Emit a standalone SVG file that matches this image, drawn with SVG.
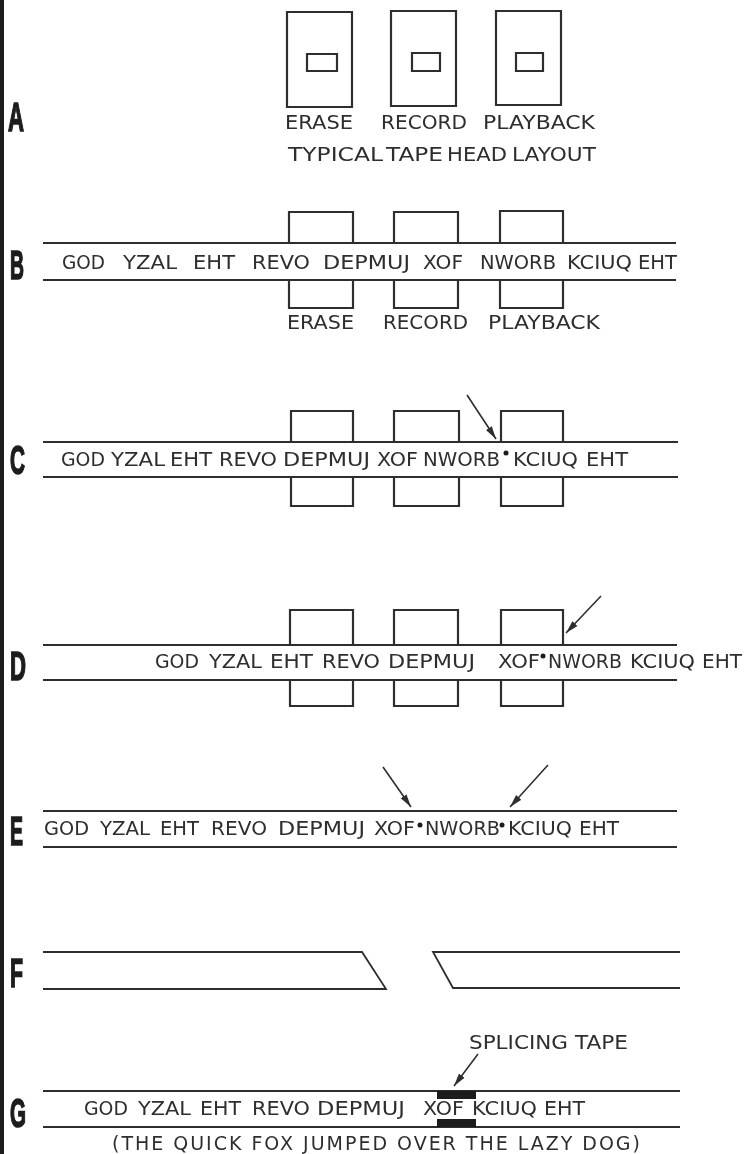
<svg xmlns="http://www.w3.org/2000/svg" width="745" height="1154" viewBox="0 0 745 1154">
<style>
.l{fill:none;stroke:#2e2e2e;stroke-width:1.8}
.h{fill:none;stroke:#2e2e2e;stroke-width:2.2}
.t{font-family:"DejaVu Sans","Liberation Sans",Arial,sans-serif;font-size:19px;fill:#2e2e2e}
.k{font-family:"Liberation Sans",Arial,sans-serif;font-weight:bold;font-size:40px;fill:#1c1c1c;stroke:#1c1c1c;stroke-width:1.6}
.a{fill:none;stroke:#2e2e2e;stroke-width:1.6;marker-end:url(#ah)}
.d{fill:#1c1c1c}
</style>
<defs>
<marker id="ah" markerUnits="userSpaceOnUse" markerWidth="15" markerHeight="10" refX="13" refY="4" orient="auto"><path d="M0 0.5L13 4L0 7.5z" fill="#2e2e2e"/></marker>
<filter id="scan" x="0" y="0" width="100%" height="100%"><feGaussianBlur stdDeviation="0.5"/></filter>
</defs>
<rect width="745" height="1154" fill="#fff"/>
<g filter="url(#scan)">
<rect id="edge" x="0" y="0" width="4" height="1154" fill="#1c1c1c"/>
<g id="A">
<text class="k" x="8" y="131" textLength="16" lengthAdjust="spacingAndGlyphs">A</text>
<path class="h" d="M287 12H352V107H287ZM307 54H337V71H307ZM391 11H456V106H391ZM412 53H440V71H412ZM496 11H561V105H496ZM516 53H543V71H516Z"/>
<text class="t" x="285" y="128.500" textLength="68" lengthAdjust="spacingAndGlyphs">ERASE</text>
<text class="t" x="381" y="128.500" textLength="86" lengthAdjust="spacingAndGlyphs">RECORD</text>
<text class="t" x="483" y="128.500" textLength="112" lengthAdjust="spacingAndGlyphs">PLAYBACK</text>
<text class="t" x="288" y="160.500" textLength="95" lengthAdjust="spacingAndGlyphs">TYPICAL</text>
<text class="t" x="386" y="160.500" textLength="57" lengthAdjust="spacingAndGlyphs">TAPE</text>
<text class="t" x="447" y="160.500" textLength="60" lengthAdjust="spacingAndGlyphs">HEAD</text>
<text class="t" x="512" y="160.500" textLength="84" lengthAdjust="spacingAndGlyphs">LAYOUT</text>
</g>
<g id="B">
<text class="k" x="10" y="279" textLength="14" lengthAdjust="spacingAndGlyphs">B</text>
<path class="l" d="M43 243H676M43 280H676"/>
<path class="h" d="M289 243V212H353V243M394 243V212H458V243M500 243V211H563V243M289 280V308H353V280M394 280V308H458V280M500 280V308H563V280"/>
<text class="t" x="62" y="268.500" textLength="43" lengthAdjust="spacingAndGlyphs">GOD</text>
<text class="t" x="123" y="268.500" textLength="54" lengthAdjust="spacingAndGlyphs">YZAL</text>
<text class="t" x="193" y="268.500" textLength="42" lengthAdjust="spacingAndGlyphs">EHT</text>
<text class="t" x="252" y="268.500" textLength="58" lengthAdjust="spacingAndGlyphs">REVO</text>
<text class="t" x="323" y="268.500" textLength="87" lengthAdjust="spacingAndGlyphs">DEPMUJ</text>
<text class="t" x="423" y="268.500" textLength="40" lengthAdjust="spacingAndGlyphs">XOF</text>
<text class="t" x="480" y="268.500" textLength="76" lengthAdjust="spacingAndGlyphs">NWORB</text>
<text class="t" x="567" y="268.500" textLength="65" lengthAdjust="spacingAndGlyphs">KCIUQ</text>
<text class="t" x="638" y="268.500" textLength="39" lengthAdjust="spacingAndGlyphs">EHT</text>
<text class="t" x="287" y="328.500" textLength="67" lengthAdjust="spacingAndGlyphs">ERASE</text>
<text class="t" x="383" y="328.500" textLength="85" lengthAdjust="spacingAndGlyphs">RECORD</text>
<text class="t" x="488" y="328.500" textLength="112" lengthAdjust="spacingAndGlyphs">PLAYBACK</text>
</g>
<g id="C">
<text class="k" x="10" y="474" textLength="15" lengthAdjust="spacingAndGlyphs">C</text>
<path class="l" d="M43 442H678M43 477H678"/>
<path class="h" d="M291 441V411H353V441M394 441V411H459V441M501 441V411H563V441M291 477V506H353V477M394 477V506H459V477M501 477V506H563V477"/>
<text class="t" x="61" y="466" textLength="44" lengthAdjust="spacingAndGlyphs">GOD</text>
<text class="t" x="111" y="466" textLength="54" lengthAdjust="spacingAndGlyphs">YZAL</text>
<text class="t" x="170" y="466" textLength="42" lengthAdjust="spacingAndGlyphs">EHT</text>
<text class="t" x="219" y="466" textLength="58" lengthAdjust="spacingAndGlyphs">REVO</text>
<text class="t" x="283" y="466" textLength="87" lengthAdjust="spacingAndGlyphs">DEPMUJ</text>
<text class="t" x="377" y="466" textLength="41" lengthAdjust="spacingAndGlyphs">XOF</text>
<text class="t" x="423" y="466" textLength="77" lengthAdjust="spacingAndGlyphs">NWORB</text>
<text class="t" x="513" y="466" textLength="65" lengthAdjust="spacingAndGlyphs">KCIUQ</text>
<text class="t" x="586" y="466" textLength="42" lengthAdjust="spacingAndGlyphs">EHT</text>
<circle class="d" cx="506" cy="453" r="2.5"/>
</g>
<g id="D">
<text class="k" x="10" y="680" textLength="16" lengthAdjust="spacingAndGlyphs">D</text>
<path class="l" d="M43 645H677M43 680H677"/>
<path class="h" d="M290 645V610H353V645M394 645V610H458V645M501 645V610H563V645M290 680V706H353V680M394 680V706H458V680M501 680V706H563V680"/>
<text class="t" x="155" y="668" textLength="44" lengthAdjust="spacingAndGlyphs">GOD</text>
<text class="t" x="209" y="668" textLength="53" lengthAdjust="spacingAndGlyphs">YZAL</text>
<text class="t" x="270" y="668" textLength="43" lengthAdjust="spacingAndGlyphs">EHT</text>
<text class="t" x="322" y="668" textLength="58" lengthAdjust="spacingAndGlyphs">REVO</text>
<text class="t" x="388" y="668" textLength="87" lengthAdjust="spacingAndGlyphs">DEPMUJ</text>
<text class="t" x="498" y="668" textLength="42" lengthAdjust="spacingAndGlyphs">XOF</text>
<text class="t" x="548" y="668" textLength="74" lengthAdjust="spacingAndGlyphs">NWORB</text>
<text class="t" x="630" y="668" textLength="65" lengthAdjust="spacingAndGlyphs">KCIUQ</text>
<text class="t" x="702" y="668" textLength="40" lengthAdjust="spacingAndGlyphs">EHT</text>
<circle class="d" cx="543" cy="656" r="2.5"/>
</g>
<g id="E">
<text class="k" x="10" y="845" textLength="13" lengthAdjust="spacingAndGlyphs">E</text>
<path class="l" d="M43 811H677M43 847H677"/>
<text class="t" x="44" y="835" textLength="45" lengthAdjust="spacingAndGlyphs">GOD</text>
<text class="t" x="100" y="835" textLength="50" lengthAdjust="spacingAndGlyphs">YZAL</text>
<text class="t" x="160" y="835" textLength="39" lengthAdjust="spacingAndGlyphs">EHT</text>
<text class="t" x="211" y="835" textLength="56" lengthAdjust="spacingAndGlyphs">REVO</text>
<text class="t" x="278" y="835" textLength="87" lengthAdjust="spacingAndGlyphs">DEPMUJ</text>
<text class="t" x="374" y="835" textLength="41" lengthAdjust="spacingAndGlyphs">XOF</text>
<text class="t" x="425" y="835" textLength="75" lengthAdjust="spacingAndGlyphs">NWORB</text>
<text class="t" x="508" y="835" textLength="64" lengthAdjust="spacingAndGlyphs">KCIUQ</text>
<text class="t" x="579" y="835" textLength="40" lengthAdjust="spacingAndGlyphs">EHT</text>
<circle class="d" cx="420" cy="825" r="2.5"/><circle class="d" cx="502" cy="825" r="2.5"/>
</g>
<g id="F">
<text class="k" x="10" y="987" textLength="13" lengthAdjust="spacingAndGlyphs">F</text>
<path class="l" d="M43 952H362L386 989H43M680 952H433L453 988H680"/>
</g>
<g id="G">
<text class="k" x="10" y="1127" textLength="16" lengthAdjust="spacingAndGlyphs">G</text>
<text class="t" x="469" y="1049" textLength="99" lengthAdjust="spacingAndGlyphs">SPLICING</text>
<text class="t" x="575" y="1049" textLength="53" lengthAdjust="spacingAndGlyphs">TAPE</text>
<path class="l" d="M43 1091H680M43 1127H680"/>
<rect x="437" y="1091" width="39" height="8" fill="#1c1c1c"/><rect x="437" y="1119" width="39" height="8" fill="#1c1c1c"/>
<text class="t" x="84" y="1115" textLength="44" lengthAdjust="spacingAndGlyphs">GOD</text>
<text class="t" x="138" y="1115" textLength="53" lengthAdjust="spacingAndGlyphs">YZAL</text>
<text class="t" x="200" y="1115" textLength="41" lengthAdjust="spacingAndGlyphs">EHT</text>
<text class="t" x="252" y="1115" textLength="58" lengthAdjust="spacingAndGlyphs">REVO</text>
<text class="t" x="317" y="1115" textLength="88" lengthAdjust="spacingAndGlyphs">DEPMUJ</text>
<text class="t" x="423" y="1115" textLength="41" lengthAdjust="spacingAndGlyphs">XOF</text>
<text class="t" x="472" y="1115" textLength="65" lengthAdjust="spacingAndGlyphs">KCIUQ</text>
<text class="t" x="544" y="1115" textLength="41" lengthAdjust="spacingAndGlyphs">EHT</text>
<text class="t" x="112" y="1150" textLength="528" lengthAdjust="spacing">(THE QUICK FOX JUMPED OVER THE LAZY DOG)</text>
</g>
<g id="connectors">
<path class="a" d="M467 395L496 439"/>
<path class="a" d="M601 596L566 633"/>
<path class="a" d="M383 767L411 807"/>
<path class="a" d="M548 765L510 807"/>
<path class="a" d="M478 1054L454 1086"/>
</g>
</g>
</svg>
